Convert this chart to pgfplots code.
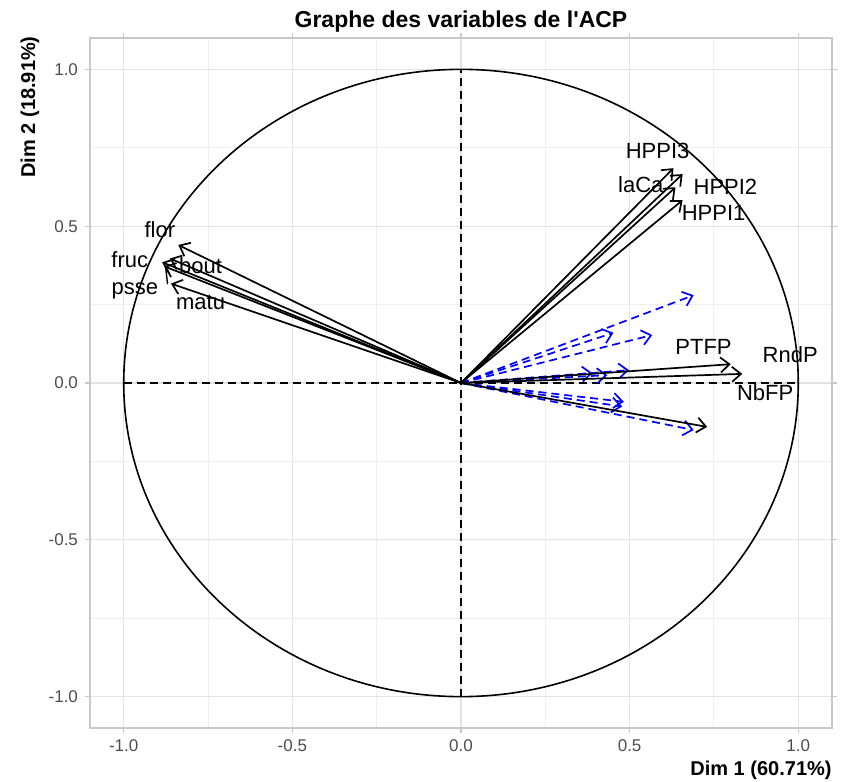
\documentclass[border=0pt]{standalone}
\usepackage{pgfplots}
\pgfplotsset{compat=1.18}
\usepackage{fontspec}
\setmainfont{Liberation Sans}
\newfontfamily\titlefont{Liberation Sans}
\usetikzlibrary{arrows.meta}
\definecolor{tickgray}{HTML}{4D4D4D}
\definecolor{gridmaj}{HTML}{E3E3E3}
\definecolor{gridmin}{HTML}{EFEFEF}
\definecolor{framegray}{HTML}{C8C8C8}
\begin{document}
\begin{tikzpicture}[
  arr/.style={black, line width=0.85pt, -{Straight Barb[length=4.5pt,width=7.5pt]}},
  sup/.style={blue, line width=0.85pt, dash pattern=on 4pt off 2.5pt, -{Straight Barb[length=4.5pt,width=7.5pt]}},
  lab/.style={font=\fontsize{11}{12}\selectfont},
]
\begin{axis}[
  width=371pt, height=345pt, scale only axis,
  xmin=-1.1, xmax=1.1, ymin=-1.1, ymax=1.1,
  xtick={-1,-0.5,0,0.5,1}, ytick={-1,-0.5,0,0.5,1},
  minor xtick={-0.75,-0.25,0.25,0.75}, minor ytick={-0.75,-0.25,0.25,0.75},
  xticklabels={-1.0,-0.5,0.0,0.5,1.0}, yticklabels={-1.0,-0.5,0.0,0.5,1.0},
  grid=both,
  major grid style={gridmaj, line width=0.6pt},
  minor grid style={gridmin, line width=0.5pt},
  axis line style={framegray, line width=0.6pt},
  tick align=outside, major tick length=2.5pt, minor tick length=0pt,
  tick style={framegray, line width=0.6pt},
  ticklabel style={font=\fontsize{8.5}{10}\selectfont, text=tickgray},
  /pgf/number format/assume math mode=true,
  clip=false,
]
% reference axes and correlation circle
\draw[black, line width=0.8pt, dash pattern=on 4pt off 2.5pt] (axis cs:-1,0) -- (axis cs:1,0);
\draw[black, line width=0.8pt, dash pattern=on 4pt off 2.5pt] (axis cs:0,-1) -- (axis cs:0,1);
\draw[black, line width=0.8pt] (axis cs:0,0) ellipse [x radius=1, y radius=1];

% supplementary variables (blue dashed)
\addplot[sup] coordinates {(0,0) (0.690,0.280)};
\addplot[sup] coordinates {(0,0) (0.567,0.153)};
\addplot[sup] coordinates {(0,0) (0.452,0.160)};
\addplot[sup] coordinates {(0,0) (0.390,0.031)};
\addplot[sup] coordinates {(0,0) (0.434,0.025)};
\addplot[sup] coordinates {(0,0) (0.498,0.041)};
\addplot[sup] coordinates {(0,0) (0.483,-0.060)};
\addplot[sup] coordinates {(0,0) (0.478,-0.075)};
\addplot[sup] coordinates {(0,0) (0.690,-0.150)};

% active variables
\addplot[arr] coordinates {(0,0) (0.630,0.685)};
\addplot[arr] coordinates {(0,0) (0.657,0.666)};
\addplot[arr] coordinates {(0,0) (0.636,0.624)};
\addplot[arr] coordinates {(0,0) (0.657,0.583)};
\addplot[arr] coordinates {(0,0) (0.800,0.060)};
\addplot[arr] coordinates {(0,0) (0.834,0.029)};
\addplot[arr] coordinates {(0,0) (0.730,-0.140)};
\addplot[arr] coordinates {(0,0) (-0.838,0.440)};
\addplot[arr] coordinates {(0,0) (-0.863,0.397)};
\addplot[arr] coordinates {(0,0) (-0.886,0.385)};
\addplot[arr] coordinates {(0,0) (-0.880,0.372)};
\addplot[arr] coordinates {(0,0) (-0.860,0.317)};
% leader line (repel)
\addplot[black, line width=0.7pt] coordinates {(-0.876,0.372) (-0.870,0.315)};

\node[lab] at (axis cs:0.583,0.739) {HPPI3};
\node[lab] at (axis cs:0.533,0.634) {laCa};
\node[lab] at (axis cs:0.784,0.624) {HPPI2};
\node[lab] at (axis cs:0.749,0.541) {HPPI1};
\node[lab] at (axis cs:0.719,0.115) {PTFP};
\node[lab] at (axis cs:0.976,0.089) {RndP};
\node[lab] at (axis cs:0.902,-0.032) {NbFP};
\node[lab] at (axis cs:-0.893,0.490) {flor};
\node[lab] at (axis cs:-0.982,0.392) {fruc};
\node[lab] at (axis cs:-0.772,0.373) {bout};
\node[lab] at (axis cs:-0.967,0.293) {psse};
\node[lab] at (axis cs:-0.772,0.258) {matu};

% title and axis labels
\node[anchor=base, inner sep=0pt, font=\titlefont\bfseries\fontsize{11.5}{13}\selectfont] at ([yshift=5pt]rel axis cs:0.5,1) {Graphe des variables de l'ACP};
\node[anchor=base east, inner sep=0pt, font=\bfseries\fontsize{10}{12}\selectfont] at ([yshift=-23.5pt]rel axis cs:1,0) {Dim 1 (60.71\%)};
\node[anchor=east, inner sep=0pt, rotate=90, font=\bfseries\fontsize{10}{12}\selectfont] at ([xshift=-30pt,yshift=1pt]rel axis cs:0,1) {Dim 2 (18.91\%)};
\coordinate (sw) at (rel axis cs:0,0);
\coordinate (ne) at (rel axis cs:1,1);
\end{axis}
\path ([shift={(-45pt,-27pt)}]sw) rectangle ([shift={(4.5pt,19pt)}]ne);
\end{tikzpicture}
\end{document}
